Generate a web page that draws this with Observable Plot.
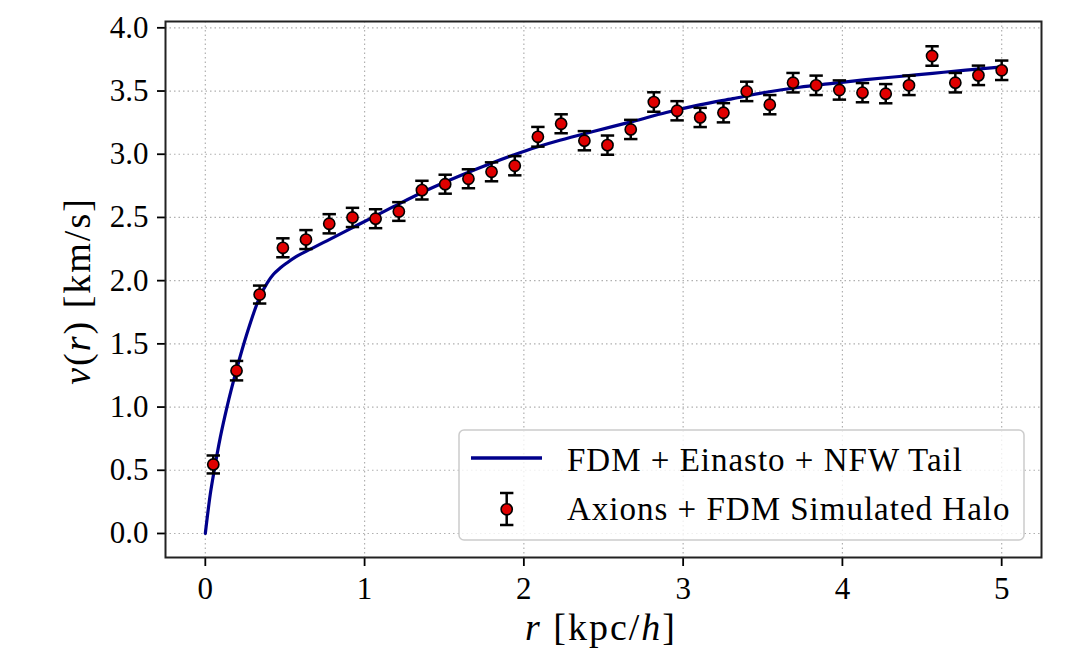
<!DOCTYPE html>
<html>
<head>
<meta charset="utf-8">
<script src="https://cdn.jsdelivr.net/npm/d3@7"></script>
<script src="https://cdn.jsdelivr.net/npm/@observablehq/plot@0.6"></script>
<style>
  html, body { margin: 0; padding: 0; background: #fff; }
  #chart { width: 1072px; height: 661px; }
</style>
</head>
<body>
<div id="chart"></div>
<script>
// Simulated halo points
const rPts = [0.05, 0.196, 0.341, 0.487, 0.632, 0.778, 0.924, 1.069, 1.215, 1.360, 1.506, 1.652, 1.797, 1.943, 2.088, 2.234, 2.380, 2.525, 2.671, 2.816, 2.962, 3.107, 3.253, 3.399, 3.544, 3.690, 3.835, 3.981, 4.126, 4.272, 4.418, 4.563, 4.709, 4.854, 5.0];
const vPts = [0.546, 1.288, 1.89, 2.26, 2.325, 2.45, 2.50, 2.49, 2.547, 2.716, 2.763, 2.806, 2.861, 2.909, 3.138, 3.241, 3.107, 3.072, 3.196, 3.413, 3.344, 3.291, 3.328, 3.497, 3.392, 3.566, 3.545, 3.508, 3.487, 3.479, 3.545, 3.777, 3.566, 3.624, 3.664];
const errPts = [0.071, 0.077, 0.071, 0.075, 0.075, 0.076, 0.076, 0.075, 0.074, 0.074, 0.075, 0.075, 0.075, 0.076, 0.078, 0.075, 0.076, 0.076, 0.076, 0.077, 0.076, 0.076, 0.076, 0.077, 0.076, 0.077, 0.077, 0.076, 0.076, 0.076, 0.077, 0.077, 0.077, 0.077, 0.077];

// Fitted curve: FDM + Einasto + NFW tail
const rCurve = [0, 0.031, 0.056, 0.094, 0.136, 0.199, 0.261, 0.345, 0.39, 0.428, 0.47, 0.512, 0.57, 0.638, 0.763, 0.972, 1.181, 1.39, 1.599, 1.808, 2.017, 2.226, 2.435, 2.685, 2.894, 3.103, 3.312, 3.521, 3.73, 3.939, 4.148, 4.357, 4.566, 4.775, 5.0];
const vCurve = [0, 0.31, 0.50, 0.76, 1.0, 1.31, 1.58, 1.88, 1.985, 2.05, 2.10, 2.14, 2.19, 2.235, 2.315, 2.45, 2.585, 2.715, 2.83, 2.935, 3.03, 3.11, 3.18, 3.26, 3.33, 3.39, 3.44, 3.49, 3.53, 3.56, 3.59, 3.615, 3.64, 3.665, 3.69];

const xTicks = [0, 1, 2, 3, 4, 5];
const yTicks = [0, 0.5, 1, 1.5, 2, 2.5, 3, 3.5, 4];

const seriesNames = ["FDM + Einasto + NFW Tail", "Axions + FDM Simulated Halo"];

const pts = rPts.map((r, i) => ({r, v: vPts[i], lo: vPts[i] - errPts[i], hi: vPts[i] + errPts[i]}));
const curve = rCurve.map((r, i) => ({r, v: vCurve[i]}));

const capSymbol = {
  draw(ctx, size) {
    const w = Math.sqrt(size / Math.PI);
    ctx.moveTo(-w, 0);
    ctx.lineTo(w, 0);
  }
};

const FONT = "Liberation Serif, DejaVu Serif, serif";
const gridStyle = {stroke: "#b0b0b0", strokeOpacity: 1, strokeDasharray: "1.5,3", strokeWidth: 1.2};

const svg = Plot.plot({
  width: 1072,
  height: 661,
  marginLeft: 165,
  marginRight: 31,
  marginTop: 21,
  marginBottom: 104,
  x: {domain: [-0.25, 5.25]},
  y: {domain: [-0.19, 4.05]},
  style: {fontFamily: FONT, fontSize: "31px", background: "white", color: "#000", overflow: "visible"},
  marks: [
    Plot.gridX(xTicks, gridStyle),
    Plot.gridY(yTicks, gridStyle),
    Plot.line(curve, {x: "r", y: "v", stroke: "#00008b", strokeWidth: 3.2, curve: "monotone-x"}),
    Plot.ruleX(pts, {x: "r", y1: "lo", y2: "hi", stroke: "black", strokeWidth: 2.5}),
    Plot.dot(pts, {x: "r", y: "lo", symbol: capSymbol, r: 6.7, fill: "none", stroke: "black", strokeWidth: 2.5}),
    Plot.dot(pts, {x: "r", y: "hi", symbol: capSymbol, r: 6.7, fill: "none", stroke: "black", strokeWidth: 2.5}),
    Plot.dot(pts, {x: "r", y: "v", r: 5.6, fill: "#e00000", stroke: "black", strokeWidth: 1.6}),
    Plot.axisX(xTicks, {tickSize: 9, tickPadding: 10, label: null, tickFormat: d => String(d), strokeWidth: 1.8}),
    Plot.axisY(yTicks, {tickSize: 8, tickPadding: 9, label: null, tickFormat: d3.format(".1f"), strokeWidth: 1.8}),
    Plot.frame({stroke: "#222", strokeWidth: 2})
  ]
});

const s = d3.select(svg);

// Axis labels
const yl = s.append("text")
  .attr("transform", "translate(90,291) rotate(-90)")
  .attr("text-anchor", "middle")
  .style("font-family", FONT)
  .attr("font-size", 38)
  .attr("letter-spacing", 2)
  .attr("fill", "#000");
yl.append("tspan").attr("font-style", "italic").text("v");
yl.append("tspan").text("(");
yl.append("tspan").attr("font-style", "italic").text("r");
yl.append("tspan").text(") [km/s]");

const xl = s.append("text")
  .attr("x", 601).attr("y", 640)
  .attr("text-anchor", "middle")
  .style("font-family", FONT)
  .attr("font-size", 38)
  .attr("letter-spacing", 2)
  .attr("fill", "#000");
xl.append("tspan").attr("font-style", "italic").text("r");
xl.append("tspan").text(" [kpc/");
xl.append("tspan").attr("font-style", "italic").text("h");
xl.append("tspan").text("]");

// Legend
const lg = s.append("g");
lg.append("rect")
  .attr("x", 459).attr("y", 430).attr("width", 565).attr("height", 110)
  .attr("rx", 5).attr("fill", "white").attr("fill-opacity", 0.8)
  .attr("stroke", "#cccccc").attr("stroke-width", 1.5);
lg.append("line")
  .attr("x1", 471).attr("x2", 542).attr("y1", 458).attr("y2", 458)
  .attr("stroke", "#00008b").attr("stroke-width", 3.5);
lg.append("line")
  .attr("x1", 506.7).attr("x2", 506.7).attr("y1", 493).attr("y2", 525)
  .attr("stroke", "black").attr("stroke-width", 2.5);
[493, 525].forEach(y => lg.append("line")
  .attr("x1", 500).attr("x2", 513.4).attr("y1", y).attr("y2", y)
  .attr("stroke", "black").attr("stroke-width", 2.5));
lg.append("circle")
  .attr("cx", 506.7).attr("cy", 509.3).attr("r", 5.6)
  .attr("fill", "#e00000").attr("stroke", "black").attr("stroke-width", 1.6);
seriesNames.forEach((name, i) => lg.append("text")
  .attr("x", 567).attr("y", i === 0 ? 470.5 : 520)
  .attr("text-anchor", "start")
  .style("font-family", FONT).attr("font-size", 33)
  .attr("letter-spacing", 1)
  .attr("fill", "#000")
  .text(name));

document.getElementById("chart").appendChild(svg);
</script>
</body>
</html>
